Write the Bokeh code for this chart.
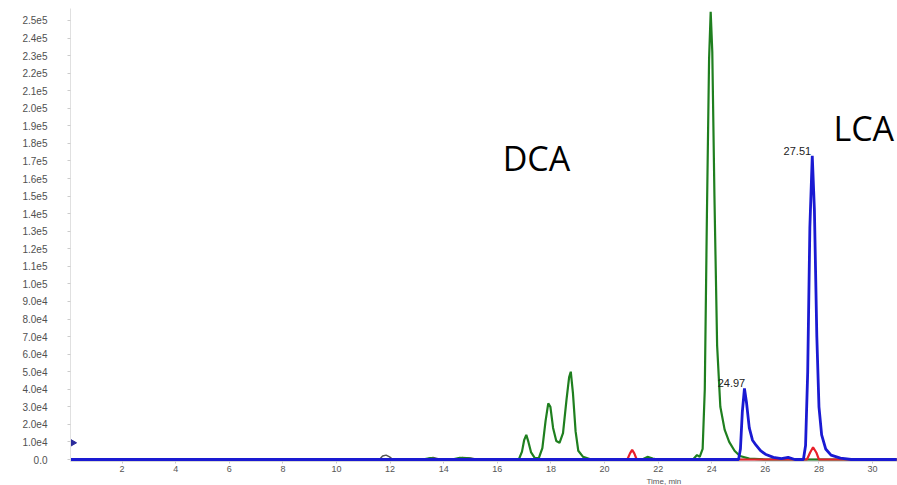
from bokeh.plotting import figure
from bokeh.models import Range1d, FixedTicker, Label, Title
from bokeh.embed import file_html
from bokeh.resources import INLINE

# ---- data (retention time in min, intensity in cps) ----
green_t = [0.0, 13.2, 13.5, 13.8, 14.3, 14.6, 14.9, 15.2, 16.8, 16.92,
           17.0, 17.08, 17.16, 17.26, 17.4, 17.55, 17.68, 17.8, 17.9, 17.98,
           18.08, 18.2, 18.32, 18.45, 18.58, 18.68, 18.74, 18.82, 18.92, 19.02,
           19.2, 19.5, 21.4, 21.6, 21.8, 22.0, 23.3, 23.45, 23.55, 23.66,
           23.74, 23.82, 23.9, 23.96, 24.02, 24.1, 24.2, 24.32, 24.48, 24.65,
           24.85, 25.05, 25.4, 26.0, 30.9]
green_v = [0, 0, 800, 0, 0, 900, 600, 0, 0, 4500,
           11000, 14000, 10000, 4000, 800, 900, 6500, 22000, 32000, 30000,
           18000, 10500, 9500, 15000, 34000, 47000, 50000, 38000, 16000, 5000,
           1500, 0, 0, 1500, 500, 0, 0, 2500, 1500, 6000,
           40000, 140000, 228000, 255000, 232000, 150000, 65000, 30000, 17000, 10000,
           5000, 2000, 500, 0, 0]

blue_t = [0.0, 25.0, 25.07, 25.14, 25.22, 25.3, 25.4, 25.52, 25.66, 25.82,
          26.0, 26.3, 26.6, 26.85, 27.1, 27.42, 27.5, 27.58, 27.66, 27.75,
          27.83, 27.92, 28.0, 28.1, 28.25, 28.45, 28.8, 29.2, 30.9]
blue_v = [0, 0, 6000, 27000, 40500, 32000, 18000, 11000, 8000, 5000,
          3000, 1200, 500, 1200, 0, 0, 8000, 50000, 132000, 173000,
          142000, 70000, 30000, 14000, 6000, 2500, 800, 0, 0]

red_t = [0.0, 20.85, 20.95, 21.03, 21.11, 21.2, 27.55, 27.67, 27.78, 27.9, 28.0, 30.9]
red_v = [0, 0, 3500, 5500, 3500, 0, 0, 4000, 7000, 4000, 0, 0]

gray_t = [0.0, 11.6, 11.72, 11.85, 11.98, 12.1, 13.3, 13.6, 13.9, 14.4, 14.7, 15.0, 15.3, 30.9]
gray_v = [0, 0, 2000, 2500, 1500, 0, 0, 1200, 0, 0, 1200, 800, 0, 0]

x_ticks = [2, 4, 6, 8, 10, 12, 14, 16, 18, 20, 22, 24, 26, 28, 30]
y_ticks = [i * 10000 for i in range(26)]
y_tick_labels = ["0.0", "1.0e4", "2.0e4", "3.0e4", "4.0e4", "5.0e4", "6.0e4", "7.0e4",
                 "8.0e4", "9.0e4", "1.0e5", "1.1e5", "1.2e5", "1.3e5", "1.4e5", "1.5e5",
                 "1.6e5", "1.7e5", "1.8e5", "1.9e5", "2.0e5", "2.1e5", "2.2e5", "2.3e5",
                 "2.4e5", "2.5e5"]

x_title = "Time, min"

peak_labels = ["24.97", "27.51"]
peak_label_t = [24.22, 26.68]
peak_label_v = [43750, 175500]

compound_names = ["DCA", "LCA"]
compound_t = [16.2, 28.54]
compound_v = [171600, 188600]

threshold_t = [0.15]
threshold_v = [9500]

# ---- figure ----
p = figure(width=897, height=485, output_backend="svg", toolbar_location=None,
           x_range=Range1d(0.075, 30.93), y_range=Range1d(-1136, 256818),
           min_border_left=70, min_border_right=0, min_border_top=8, min_border_bottom=23)
p.outline_line_color = None
p.xgrid.visible = False
p.ygrid.visible = False
p.background_fill_color = "white"

p.line(gray_t, gray_v, line_color="#555555", line_width=1.5)
p.line(green_t, green_v, line_color="#1f7f1f", line_width=2.2)
p.line(red_t, red_v, line_color="#e8202a", line_width=2.2)
p.line(blue_t, blue_v, line_color="#1a1ad2", line_width=2.8)

p.scatter(threshold_t, threshold_v, marker="triangle", angle=-1.5708, size=7,
          fill_color="#2a2a9a", line_color="#2a2a9a")

# axes
xa = p.xaxis[0]
xa.ticker = FixedTicker(ticks=x_ticks)
xa.axis_line_color = "#d8d8d8"
xa.major_tick_line_color = "#c8c8c8"
xa.major_tick_out = 2
xa.major_tick_in = 0
xa.minor_tick_line_color = None
xa.major_label_standoff = 2
xa.major_label_text_font = "Liberation Sans"
xa.major_label_text_font_size = "9px"
xa.major_label_text_color = "#555555"

ya = p.yaxis[0]
ya.ticker = FixedTicker(ticks=y_ticks)
ya.major_label_overrides = {t: l for t, l in zip(y_ticks, y_tick_labels)}
ya.axis_line_color = "#e0e0e0"
ya.major_tick_line_color = "#cccccc"
ya.major_tick_out = 3
ya.major_tick_in = 0
ya.minor_tick_line_color = None
ya.major_label_standoff = 20
ya.major_label_text_font = "Liberation Sans"
ya.major_label_text_font_size = "10px"
ya.major_label_text_color = "#505050"

# time axis title, placed below the tick labels, off-centre as in the original
p.add_layout(Title(text=x_title, align="left", offset=576, standoff=0,
                   text_font="Liberation Sans", text_font_size="8px",
                   text_font_style="normal", text_color="#555555"), "below")

for t, v, s in zip(peak_label_t, peak_label_v, peak_labels):
    p.add_layout(Label(x=t, y=v, text=s, text_align="left", text_baseline="middle",
                       text_font="Liberation Sans", text_font_size="11px",
                       text_color="#222222"))

for t, v, s in zip(compound_t, compound_v, compound_names):
    p.add_layout(Label(x=t, y=v, text=s, text_align="left", text_baseline="alphabetic",
                       text_font="Open Sans", text_font_size="34px",
                       text_color="#000000"))

open("out.html", "w").write(file_html(p, INLINE))
